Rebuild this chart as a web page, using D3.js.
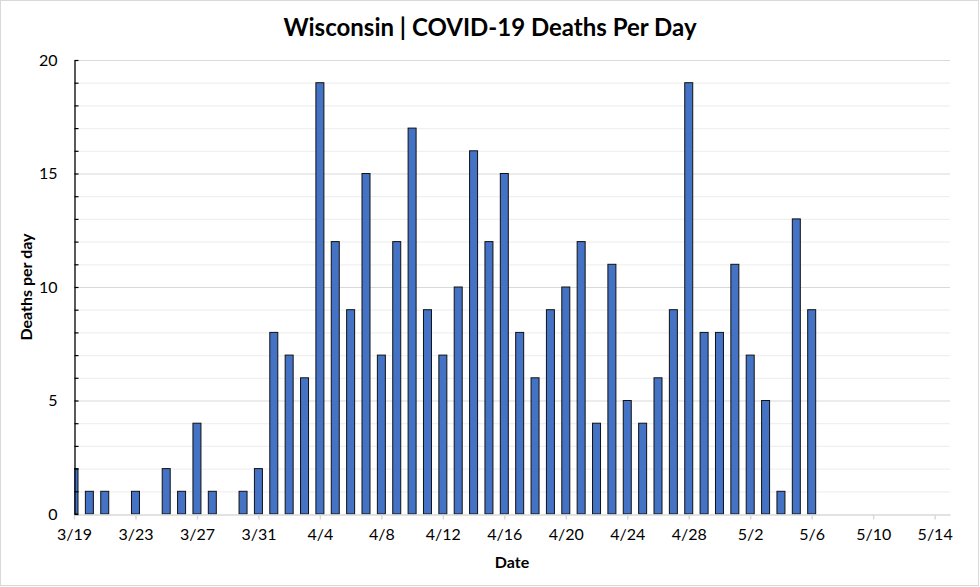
<!DOCTYPE html>
<html><head><meta charset="utf-8">
<script src="https://cdn.jsdelivr.net/npm/d3@7"></script>
<style>body{margin:0;background:#fff;} svg{display:block;}</style>
</head><body>
<svg id="c" width="980" height="587"></svg>
<script>
const startDate = "2020-03-19";
const endDate = "2020-05-15";
const deaths = [2,1,1,0,1,0,2,1,4,1,0,1,2,8,7,6,19,12,9,15,7,12,17,9,7,10,16,12,15,8,6,9,10,12,4,11,5,4,6,9,19,8,8,11,7,5,1,13,9];
const yTicks = [0,5,10,15,20];
const xTickLabels = ["3/19","3/23","3/27","3/31","4/4","4/8","4/12","4/16","4/20","4/24","4/28","5/2","5/6","5/10","5/14"];
const title = "Wisconsin | COVID-19 Deaths Per Day";
const xTitle = "Date";
const yTitle = "Deaths per day";

const parse = d3.timeParse("%Y-%m-%d");
const d0 = parse(startDate), d1 = parse(endDate);
const data = deaths.map((v,i)=>({date:d3.timeDay.offset(d0,i), v}));

const svg = d3.select("#c");
const font = "Lato, 'Open Sans', sans-serif";
svg.append("rect").attr("x",0.5).attr("y",0.5).attr("width",978).attr("height",585)
  .attr("fill","#fff").attr("stroke","#d9d9d9");

const L=74, R=950, T=60, B=514;
const x = d3.scaleTime().domain([d0,d1]).range([L,R]);
const y = d3.scaleLinear().domain([0,20]).range([B,T]);

// gridlines
const grid = svg.append("g");
grid.selectAll("line").data(d3.range(1,21)).join("line")
  .attr("x1",L).attr("x2",R).attr("y1",d=>y(d)+0.5).attr("y2",d=>y(d)+0.5)
  .attr("stroke",d=>d%5===0?"#d9d9d9":"#f0f0f0").attr("stroke-width",1.2);

svg.append("defs").append("clipPath").attr("id","clip")
  .append("rect").attr("x",L).attr("y",0).attr("width",R-L).attr("height",B+1);

const bw = 8;
svg.append("g").attr("clip-path","url(#clip)").selectAll("rect").data(data.filter(d=>d.v>0)).join("rect")
  .attr("x",d=>x(d.date)-bw/2).attr("width",bw)
  .attr("y",d=>y(d.v)).attr("height",d=>B-y(d.v))
  .attr("fill","#4472C4").attr("stroke","#111").attr("stroke-width",1);

// x axis
const tickDates = xTickLabels.map((s,i)=>d3.timeDay.offset(d0,i*4));
const xAxis = d3.axisBottom(x).tickValues(tickDates)
  .tickFormat((d,i)=>xTickLabels[i]).tickSize(5).tickSizeOuter(0).tickPadding(9);
const gx = svg.append("g").attr("transform",`translate(0,${B+0.5})`).call(xAxis);
gx.select(".domain").attr("stroke","#d9d9d9").attr("stroke-width",1.5);
gx.selectAll(".tick line").attr("stroke","#d9d9d9").attr("stroke-width",1.5);
gx.selectAll("text").attr("font-family",font).attr("font-size",16).attr("fill","#000");

// y axis
const yAxis = d3.axisLeft(y).tickValues(yTicks).tickSize(0).tickSizeOuter(0).tickPadding(17);
const gy = svg.append("g").attr("transform",`translate(${L+0.5},0)`).call(yAxis);
gy.select(".domain").attr("stroke","#000").attr("stroke-width",1.3);
gy.selectAll("text").attr("font-family",font).attr("font-size",16).attr("fill","#000");
gy.append("g").selectAll("line").data(d3.range(0,21)).join("line")
  .attr("x1",0).attr("x2",4).attr("y1",d=>y(d)+0.5).attr("y2",d=>y(d)+0.5)
  .attr("stroke","#000").attr("stroke-width",1.2);

svg.append("text").attr("x",490).attr("y",36).attr("text-anchor","middle")
  .attr("font-family",font).attr("font-weight","bold").attr("font-size",24).text(title);
svg.append("text").attr("x",512).attr("y",568).attr("text-anchor","middle")
  .attr("font-family",font).attr("font-weight","bold").attr("font-size",16).text(xTitle);
svg.append("text").attr("transform","translate(32,287) rotate(-90)").attr("text-anchor","middle")
  .attr("font-family",font).attr("font-weight","bold").attr("font-size",16).text(yTitle);
</script>
</body></html>
